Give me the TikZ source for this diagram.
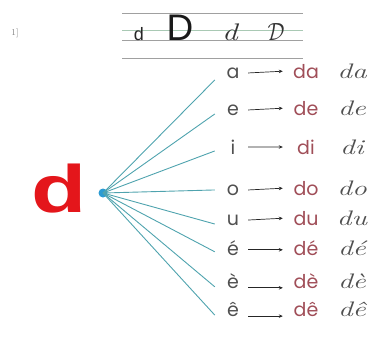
\documentclass[tikz,border=0pt]{standalone}
\usepackage{fontspec}
\newfontfamily\geo{Poppins}
\newfontfamily\arialf{Liberation Sans}
\usetikzlibrary{arrows.meta}
\definecolor{spoke}{HTML}{4FA3AE}
\definecolor{dotblue}{HTML}{2B9BD3}
\definecolor{bigred}{HTML}{E4161B}
\definecolor{syl}{HTML}{A04E58}
\definecolor{vow}{HTML}{505050}
\definecolor{guide}{HTML}{A0A0A0}
\definecolor{guidegreen}{HTML}{A9C9B4}
\tikzset{
  vowel/.style={anchor=mid, text=vow, font=\geo\fontsize{19}{19}\selectfont, minimum width=30pt, inner sep=0pt},
  sylb/.style={anchor=mid, text=syl, font=\geo\fontsize{19}{19}\selectfont, minimum width=46pt, inner sep=0pt},
  curs/.style={anchor=mid, text=vow, font=\itshape\fontsize{21}{21}\selectfont, inner sep=0pt, xscale=1.4},
  spokeline/.style={draw=spoke, line width=0.9pt},
  arr/.style={draw=black!85, line width=0.7pt, -{Stealth[length=4pt,width=3.5pt]}},
  guideline/.style={draw=guide, line width=0.8pt}
}
\begin{document}
\begin{tikzpicture}[x=1pt,y=-1pt]
\useasboundingbox (0,0) rectangle (377,341);
% header
\node[text=gray, font=\fontsize{9}{9}\selectfont] (num) at (15,33) {1]};
\draw[guideline] (122,13) -- (303,13);
\draw[draw=guidegreen, line width=0.8pt] (122,30) -- (303,30);
\draw[guideline] (122,40) -- (303,40);
\draw[guideline, line width=1pt] (122,58) -- (303,58);
\node[anchor=base, inner sep=0pt, text=black!85, font=\arialf\fontsize{18}{18}\selectfont] (t1) at (139,40) {d};
\node[anchor=base, inner sep=0pt, text=black!90, font=\arialf\fontsize{37}{37}\selectfont] (t2) at (180,40) {D};
\node[anchor=base, inner sep=0pt, text=black!80, xscale=1.3, font=\itshape\fontsize{24}{24}\selectfont] (t3) at (230,40) {d};
\node[anchor=base, inner sep=0pt, text=black!80, xscale=0.85, font=\fontsize{40}{40}\selectfont] (t4) at (276,40) {$\mathcal{D}$};
% big d and hub
\node[anchor=base, inner sep=0pt, text=bigred, xscale=1.35, font=\arialf\bfseries\fontsize{67}{67}\selectfont] (big) at (59,212) {d};
\node[circle, fill=dotblue, inner sep=0pt, minimum size=9pt] (hub) at (103,193) {};
% rows (shifts are in canvas units: negative = downwards)
\foreach \n/\y/\v/\ly/\ay in {1/76/a/-7/0, 2/113/e/-4/0, 3/152/i/-4/0, 4/193/o/0/0, 5/223/u/-4/0, 6/253/é/-4/-2, 7/286/è/-6/-7, 8/314/ê/-6/-7}{
  \node[vowel] (v\n) at (233,\y) {\v};
  \node[sylb] (s\n) at (306,\y) {d\v};
  \node[curs] (c\n) at (352,\y) {d\v};
  \draw[spokeline] (hub.center) -- ([xshift=-3pt,yshift=\ly pt]v\n.west);
  \draw[arr] ([yshift=\ay pt]v\n.east) -- ([yshift=\ay pt]s\n.west);
}
\end{tikzpicture}
\end{document}
